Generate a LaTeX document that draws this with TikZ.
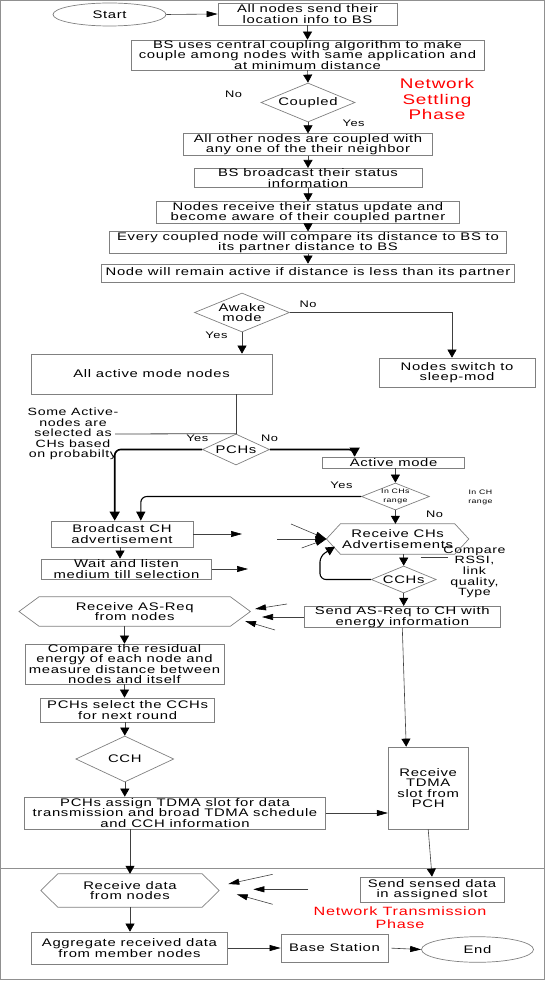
\documentclass[tikz,border=0pt]{standalone}
\usepackage{fontspec}
\usetikzlibrary{shapes.geometric,arrows.meta}
\newfontfamily\wfont[FakeStretch=1.35,LetterSpace=6]{Liberation Sans}
\newcommand\bxf{\wfont\fontsize{11}{10.3}\selectfont}
\newcommand\lblf{\wfont\fontsize{9.5}{10}\selectfont}
\newcommand\tinyf{\wfont\fontsize{6.5}{8.5}\selectfont}
\newcommand\sidef{\wfont\fontsize{10.5}{10.6}\selectfont}
\newcommand\redbig{\wfont\fontsize{14}{15.5}\selectfont}
\newcommand\redsm{\wfont\fontsize{12}{13}\selectfont}
\definecolor{boxgray}{HTML}{808080}
\definecolor{linegray}{HTML}{404040}
\definecolor{framegray}{HTML}{909090}
\begin{document}
\begin{tikzpicture}[x=1pt,y=-1pt,
 bx/.style={draw=boxgray,line width=0.7pt,rectangle,inner sep=0.5pt,align=center,font=\bxf},
 dia/.style={draw=boxgray,line width=0.7pt,diamond,inner sep=0pt,align=center,font=\bxf},
 hx/.style={rectangle,inner sep=0.5pt,align=center,font=\bxf},
 ell/.style={draw=boxgray,line width=0.7pt,ellipse,inner sep=0pt,font=\bxf},
 hexline/.style={draw=boxgray,line width=0.7pt},
 conn/.style={draw=linegray,line width=0.6pt,-{Triangle[length=8pt,width=9pt,color=black]}},
 hconn/.style={draw=linegray,line width=0.6pt,-{Triangle[length=11pt,width=6pt,color=black]}},
 thickc/.style={draw=black,line width=1.6pt,rounded corners=6pt,-{Triangle[length=9pt,width=10pt]}},
 medc/.style={draw=black,line width=1.1pt,rounded corners=6pt,-{Triangle[length=9pt,width=9pt]}},
 plain/.style={draw=linegray,line width=0.6pt},
 lbl/.style={font=\lblf,inner sep=0pt},
 redt/.style={text=red,align=center,inner sep=0pt},
]
\useasboundingbox (0,0) rectangle (545,981);
\draw[framegray,line width=1pt] (0.5,0.5) rectangle (544.5,979.8);
\draw[framegray,line width=1pt] (0,868) -- (545,868);

% nodes
\node[ell,minimum width=113pt,minimum height=23pt] (start) at (109.5,14.5) {Start};
\node[bx,minimum width=179pt,minimum height=22pt] (b1) at (307.5,14) {All nodes send their\\location info to BS};
\node[bx,minimum width=353pt,minimum height=30pt] (b2) at (307.5,55) {BS uses central coupling algorithm to make\\couple among nodes with same application and\\at minimum distance};
\node[dia,aspect=2.4,minimum width=94pt,minimum height=39pt] (cpl) at (308,102.5) {Coupled};
\node[bx,minimum width=249pt,minimum height=21pt] (b3) at (308,144.5) {All other nodes are coupled with\\any one of the their neighbor};
\node[bx,minimum width=228pt,minimum height=18pt] (b4) at (308,178) {BS broadcast their status\\information};
\node[bx,minimum width=303pt,minimum height=21pt] (b5) at (308,212.5) {Nodes receive their status update and\\become aware of their coupled partner};
\node[bx,minimum width=397pt,minimum height=19pt] (b6) at (308,242.5) {Every coupled node will compare its distance to BS to\\its partner distance to BS};
\node[bx,minimum width=413pt,minimum height=18pt] (b7) at (308,273) {Node will remain active if distance is less than its partner};
\node[redt,font=\redbig] (nsp) at (437,99) {Network\\Settling\\Phase};

\node[dia,aspect=2.4,minimum width=95pt,minimum height=39pt] (awk) at (242,312.5) {Awake\\mode};
\node[bx,minimum width=156pt,minimum height=29pt] (slp) at (457,372.5) {Nodes switch to\\sleep-mod};
\node[bx,minimum width=241pt,minimum height=40pt] (act) at (151.5,374) {All active mode nodes};
\node[dia,aspect=2.2,minimum width=67pt,minimum height=31pt] (pch) at (236,449.5) {PCHs};
\node[font=\sidef,align=center,inner sep=0pt] (sat) at (73,434) {Some Active-\\nodes are\\selected as\\CHs based\\on probabilty};
\coordinate (satend) at (115,434);
\node[bx,minimum width=142pt,minimum height=11pt,inner sep=0pt] (actm) at (393.6,462.5) {Active mode};
\node[dia,aspect=2.5,minimum width=68pt,minimum height=27pt,font=\tinyf] (inch) at (395.4,496.5) {In CHs\\range};
\node[font=\tinyf,align=center,inner sep=0pt] (inchr) at (480.4,497.5) {In CH\\range};
\node[bx,minimum width=142pt,minimum height=26pt] (bc) at (122,534) {Broadcast CH\\advertisement};
\node[hx,minimum width=142pt,minimum height=30pt] (rch) at (397.6,539) {Receive CHs\\Advertisements};
\node[bx,minimum width=170pt,minimum height=20pt] (wt) at (126.5,569) {Wait and listen\\medium till selection};
\node[dia,aspect=2.4,minimum width=65pt,minimum height=27pt] (cchs) at (403.7,579.5) {CCHs};
\node[font=\sidef,align=center,inner sep=0pt] (cmpt) at (474.5,572) {Compare\\RSSI,\\link\\quality,\\Type};
\node[hx,minimum width=231pt,minimum height=29pt] (ras) at (134.7,611.5) {Receive AS-Req\\from nodes};
\node[bx,minimum width=196.5pt,minimum height=20pt] (sas) at (402.3,617) {Send AS-Req to CH with\\energy information};
\node[bx,minimum width=199pt,minimum height=40pt] (cmp) at (124.5,664) {Compare the residual\\energy of each node and\\measure distance between\\nodes and itself};
\node[bx,minimum width=174pt,minimum height=24pt] (psel) at (127.6,710) {PCHs select the CCHs\\for next round};
\node[dia,aspect=2.1,minimum width=98pt,minimum height=46pt] (cch) at (124.8,759) {CCH};
\node[bx,minimum width=301pt,minimum height=32pt] (pas) at (175,813) {PCHs assign TDMA slot for data\\transmission and broad TDMA schedule\\and CCH information};
\node[bx,minimum width=80pt,minimum height=82pt] (tdma) at (428.2,788) {Receive\\TDMA\\slot from\\PCH};
\node[hx,minimum width=178pt,minimum height=33pt] (rdat) at (130,890.5) {Receive data\\from nodes};
\node[bx,minimum width=144pt,minimum height=25pt] (sens) at (432,889.5) {Send sensed data\\in assigned slot};
\node[redt,font=\redsm] (ntp) at (400,917.5) {Network Transmission\\Phase};
\node[bx,minimum width=196pt,minimum height=32pt] (agg) at (129.5,948) {Aggregate received data\\from member nodes};
\node[bx,minimum width=107pt,minimum height=28pt] (bs) at (334.5,948) {Base Station};
\node[ell,minimum width=112pt,minimum height=25.6pt] (end) at (477.5,949.5) {End};

% hexagons
\draw[hexline] (rch.west) -- ([xshift=14pt]rch.north west) -- ([xshift=-14pt]rch.north east) -- (rch.east) -- ([xshift=-14pt]rch.south east) -- ([xshift=14pt]rch.south west) -- cycle;
\draw[hexline] (ras.west) -- ([xshift=20pt]ras.north west) -- ([xshift=-20pt]ras.north east) -- (ras.east) -- ([xshift=-20pt]ras.south east) -- ([xshift=20pt]ras.south west) -- cycle;
\draw[hexline] (rdat.west) -- ([xshift=17pt]rdat.north west) -- ([xshift=-17pt]rdat.north east) -- (rdat.east) -- ([xshift=-17pt]rdat.south east) -- ([xshift=17pt]rdat.south west) -- cycle;

% labels
\node[lbl] (l1) at (233.5,94.5) {No};
\node[lbl] (l2) at (353.6,123.3) {Yes};
\node[lbl] (l3) at (308,304) {No};
\node[lbl] (l4) at (216.4,335) {Yes};
\node[lbl] (l5) at (197.3,438) {Yes};
\node[lbl] (l6) at (269.6,438) {No};
\node[lbl] (l7) at (341.5,485) {Yes};
\node[lbl] (l8) at (434.5,514) {No};

% free coordinates
\coordinate (bcend) at (242,534);
\coordinate (wtend) at (248,569);
\coordinate (ra1) at (291,524);
\coordinate (ra2) at (277,539);
\coordinate (ra3) at (301.7,548);
\coordinate (cl1) at (420.6,557);
\coordinate (cl2) at (448.4,557);
\coordinate (fbB) at (320,556);
\coordinate (fbC) at (335,546.7);
\coordinate (sasend) at (262,617);
\coordinate (sa1s) at (287,604);
\coordinate (sa1e) at (255,609);
\coordinate (sa3s) at (275,630);
\coordinate (sa3e) at (245,621);
\coordinate (rd1s) at (272.7,874.3);
\coordinate (rd1e) at (228.3,884);
\coordinate (rd2s) at (308.3,889.3);
\coordinate (rd2e) at (253.3,889.3);
\coordinate (rd3s) at (272.7,904.3);
\coordinate (rd3e) at (236.7,894.3);

% connectors
\draw[hconn] (start.east) -- (b1.west);
\draw[conn] (b1.south) -- (b2.north);
\draw[conn] (b2.south) -- (cpl.north);
\draw[conn] (cpl.south) -- (b3.north);
\draw[conn] (b3.south) -- (b4.north);
\draw[conn] (b4.south) -- (b5.north);
\draw[conn] (b5.south) -- (b6.north);
\draw[conn] (b6.south) -- (b7.north);
\draw[conn] (awk.east) -| ([xshift=-5pt]slp.north);
\draw[conn] (awk.south) -- (awk.south |- act.north);
\draw[plain] (pch.north |- act.south) -- (pch.north);
\draw[plain,line width=0.8pt] (satend) -- (pch.north);
\draw[thickc] (pch.west) -| ([xshift=-7.3pt]bc.north);
\draw[thickc] (pch.east) -| ([xshift=-39pt]actm.north);
\draw[conn] (inch.north |- actm.south) -- (inch.north);
\draw[medc] (inch.west) -| ([xshift=18.8pt]bc.north);
\draw[conn] (inch.south) -- (inch.south |- rch.north);
\draw[hconn] (bc.east) -- (bcend);
\draw[hconn] (ra1) -- (rch.west);
\draw[hconn] (ra2) -- (rch.west);
\draw[hconn] (ra3) -- (rch.west);
\draw[conn] ([xshift=-2pt]bc.south) -- ([xshift=-2pt]bc.south |- wt.north);
\draw[hconn] (wt.east) -- (wtend);
\draw[conn] (cchs.north |- rch.south) -- (cchs.north);
\draw[plain] (cl1) -- (cl2);
\draw[medc] (cchs.west) -| (fbB) -- (fbC);
\draw[conn] (cchs.south) -- (cchs.south |- sas.north);
\draw[hconn] (sas.west) -- (sasend);
\draw[hconn] (sa1s) -- (sa1e);
\draw[hconn] (sa3s) -- (sa3e);
\draw[conn] (cmp.north |- ras.south) -- (cmp.north);
\draw[conn] (sas.south) -- ([xshift=-22pt]tdma.north);
\draw[conn] (cmp.south) -- (cmp.south |- psel.north);
\draw[conn] (cch.north |- psel.south) -- (cch.north);
\draw[conn] (cch.south) -- (cch.south |- pas.north);
\draw[hconn] (pas.east) -- (pas.east -| tdma.west);
\draw[conn] (rdat.north |- pas.south) -- (rdat.north);
\draw[conn] (tdma.south) -- (sens.north);
\draw[hconn] (rd1s) -- (rd1e);
\draw[hconn] (rd2s) -- (rd2e);
\draw[hconn] (rd3s) -- (rd3e);
\draw[conn] (rdat.south) -- (rdat.south |- agg.north);
\draw[hconn] (agg.east) -- (bs.west);
\draw[hconn,shorten <=3pt] (bs.east) -- (end.west);
\end{tikzpicture}
\end{document}
